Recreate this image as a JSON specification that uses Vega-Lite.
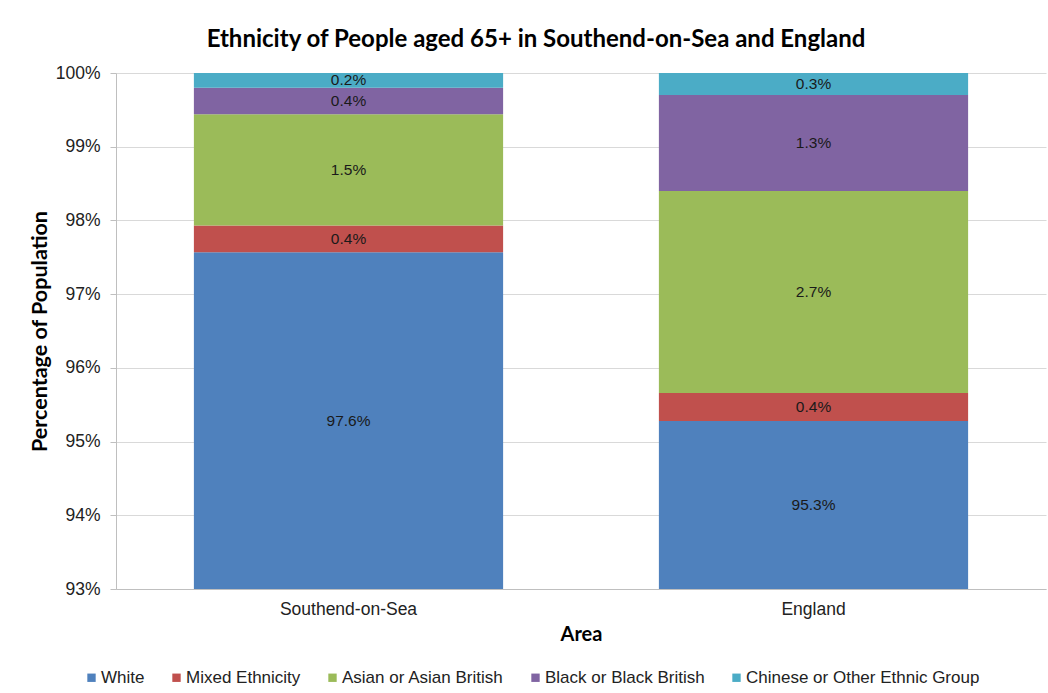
{
  "$schema": "https://vega.github.io/schema/vega-lite/v6.json",
  "width": 930,
  "height": 516,
  "autosize": {"type": "none"},
  "padding": {"left": 116, "top": 73, "right": 2, "bottom": 104},
  "background": "white",
  "title": {
    "text": "Ethnicity of People aged 65+ in Southend-on-Sea and England",
    "font": "Lato",
    "fontSize": 24,
    "fontWeight": "bold",
    "color": "#000000",
    "anchor": "middle",
    "offset": 12,
    "dx": -45
  },
  "data": {
    "values": [
      {"area": "Southend-on-Sea", "group": "White", "k": 1, "value": 0.9757},
      {"area": "Southend-on-Sea", "group": "Mixed Ethnicity", "k": 2, "value": 0.0036},
      {"area": "Southend-on-Sea", "group": "Asian or Asian British", "k": 3, "value": 0.0151},
      {"area": "Southend-on-Sea", "group": "Black or Black British", "k": 4, "value": 0.0036},
      {"area": "Southend-on-Sea", "group": "Chinese or Other Ethnic Group", "k": 5, "value": 0.0020},
      {"area": "England", "group": "White", "k": 1, "value": 0.9528},
      {"area": "England", "group": "Mixed Ethnicity", "k": 2, "value": 0.0038},
      {"area": "England", "group": "Asian or Asian British", "k": 3, "value": 0.0274},
      {"area": "England", "group": "Black or Black British", "k": 4, "value": 0.0130},
      {"area": "England", "group": "Chinese or Other Ethnic Group", "k": 5, "value": 0.0030}
    ]
  },
  "transform": [
    {"stack": "value", "groupby": ["area"], "sort": [{"field": "k", "order": "ascending"}], "as": ["y0", "y1"]},
    {"calculate": "(max(datum.y0, 0.93) + datum.y1) / 2", "as": "mid"}
  ],
  "encoding": {
    "x": {
      "field": "area",
      "type": "nominal",
      "sort": ["Southend-on-Sea", "England"],
      "scale": {"paddingInner": 0.335, "paddingOuter": 0.1675},
      "axis": {
        "title": "Area",
        "titleFont": "Lato",
        "titleFontSize": 20,
        "titleFontWeight": "bold",
        "titleColor": "#000000",
        "titleBaseline": "middle",
        "titleY": 45,
        "labelAngle": 0,
        "labelFont": "Arial",
        "labelFontSize": 17.5,
        "labelColor": "#222222",
        "labelPadding": 11,
        "ticks": false,
        "domainColor": "#bfbfbf",
        "grid": false
      }
    }
  },
  "layer": [
    {
      "mark": {"type": "bar", "clip": true},
      "encoding": {
        "y": {
          "field": "y1",
          "type": "quantitative",
          "scale": {"domain": [0.93, 1], "nice": false, "zero": false},
          "axis": {
            "title": "Percentage of Population",
            "titleFont": "Lato",
            "titleFontSize": 21.5,
            "titleFontWeight": "bold",
            "titleColor": "#000000",
            "titleX": -76,
            "titleY": 258,
            "titleAngle": -90,
            "titleAlign": "center",
            "titleBaseline": "middle",
            "values": [0.93, 0.94, 0.95, 0.96, 0.97, 0.98, 0.99, 1.0],
            "format": ".0%",
            "labelFont": "Arial",
            "labelFontSize": 17.5,
            "labelColor": "#222222",
            "labelPadding": 10,
            "tickSize": 6,
            "tickColor": "#bfbfbf",
            "domainColor": "#bfbfbf",
            "gridColor": "#d9d9d9",
            "grid": true
          }
        },
        "y2": {"field": "y0"},
        "color": {
          "field": "group",
          "type": "nominal",
          "scale": {
            "domain": ["White", "Mixed Ethnicity", "Asian or Asian British", "Black or Black British", "Chinese or Other Ethnic Group"],
            "range": ["#4F81BD", "#C0504D", "#9BBB59", "#8064A2", "#4BACC6"]
          },
          "legend": {
            "title": null,
            "orient": "none",
            "direction": "horizontal",
            "columns": 5,
            "legendX": -33,
            "legendY": 596,
            "symbolType": "square",
            "symbolSize": 70,
            "symbolStrokeWidth": 0,
            "labelFont": "Arial",
            "labelFontSize": 17,
            "labelColor": "#222222",
            "labelOffset": 1,
            "labelLimit": 0,
            "columnPadding": 23
          }
        }
      }
    },
    {
      "mark": {"type": "text", "font": "Arial", "fontSize": 15.5, "color": "#1a1a1a", "baseline": "middle"},
      "encoding": {
        "y": {"field": "mid", "type": "quantitative"},
        "text": {"field": "value", "type": "quantitative", "format": ".1%"}
      }
    }
  ],
  "config": {"view": {"stroke": null}}
}
